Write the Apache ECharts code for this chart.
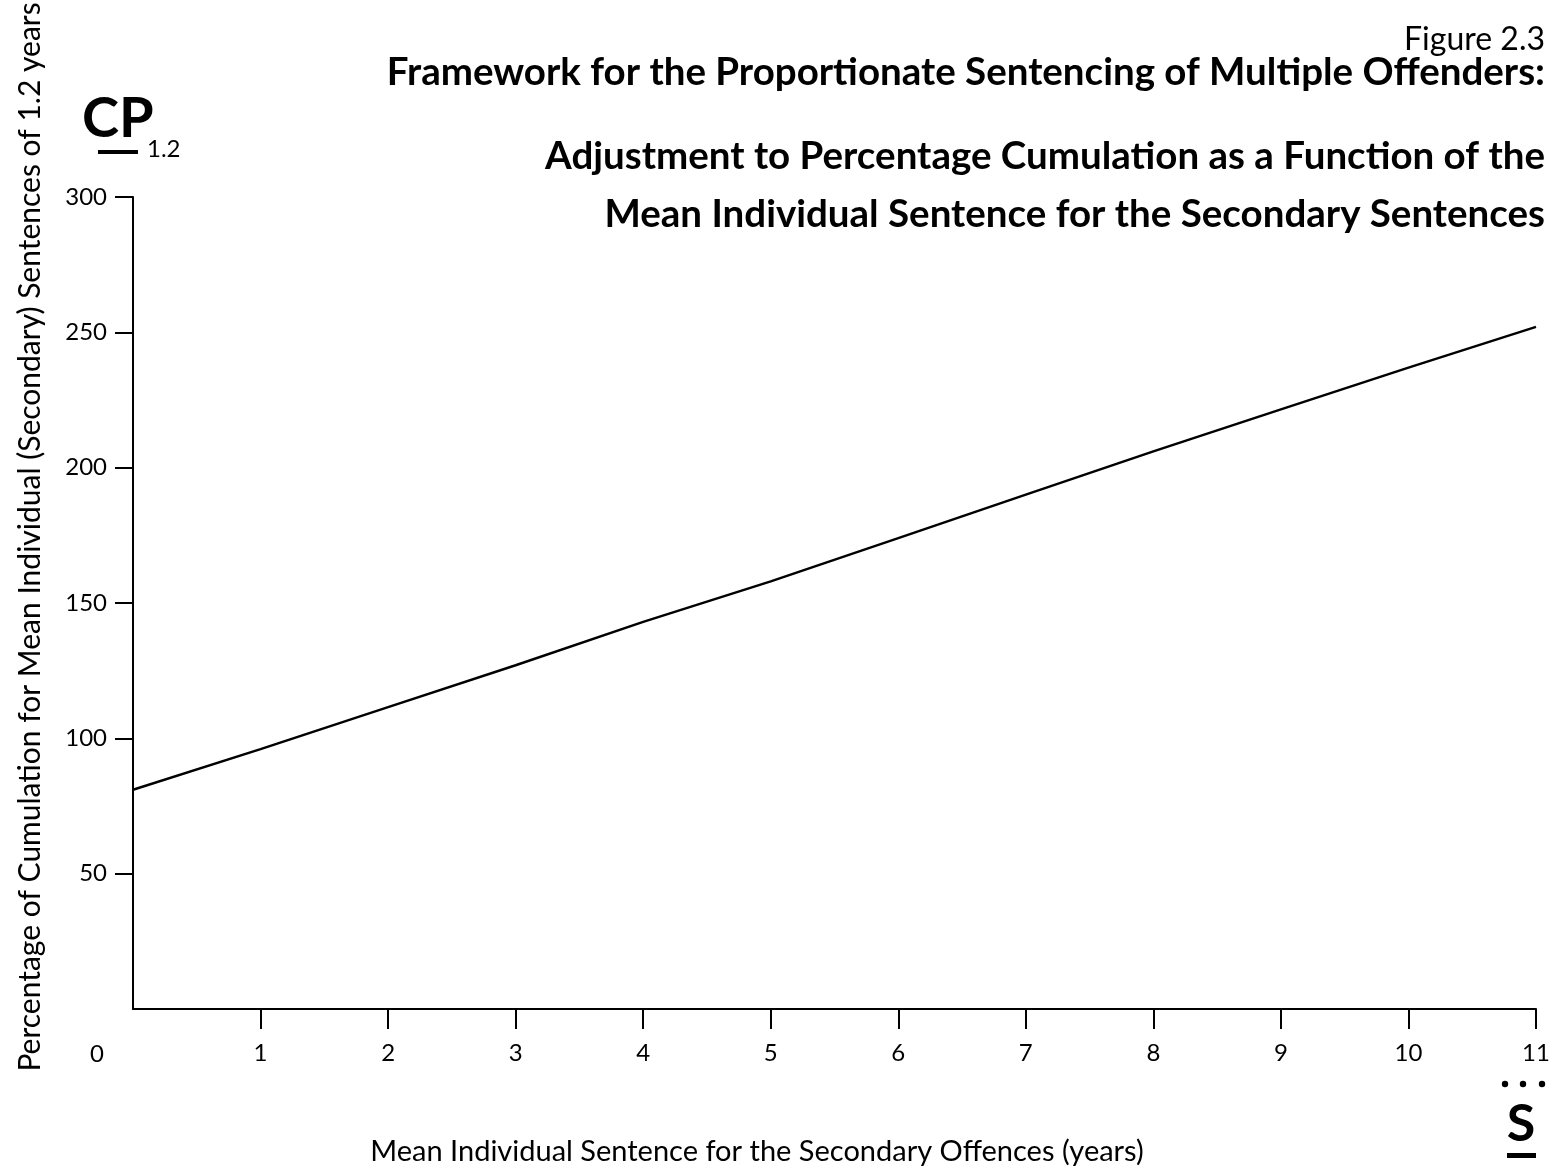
<!DOCTYPE html>
<html>
<head>
<meta charset="utf-8">
<title>Figure 2.3</title>
<script src="https://cdn.jsdelivr.net/npm/echarts@6/dist/echarts.min.js"></script>
<style>
  html, body { margin: 0; padding: 0; background: #fff; }
  #chart { width: 1557px; height: 1173px; }
</style>
</head>
<body>
<div id="chart"></div>
<script>
// Mean individual sentence for the secondary offences (years)
const sentenceYears = [0, 1, 2, 3, 4, 5, 6, 7, 8, 9, 10, 11];
// Percentage of cumulation for a 1.2-year mean secondary sentence
const cumulationPct = [81, 96, 111.5, 127, 143, 158, 174, 190, 206, 221.5, 237, 252];
// Tick labels
const xTicks = [1, 2, 3, 4, 5, 6, 7, 8, 9, 10, 11];
const yTicks = [50, 100, 150, 200, 250, 300];

const titleLines = [
  'Framework for the Proportionate Sentencing of Multiple Offenders:',
  'Adjustment to Percentage Cumulation as a Function of the',
  'Mean Individual Sentence for the Secondary Sentences'
];
const xAxisTitle = 'Mean Individual Sentence for the Secondary Offences (years)';
const yAxisTitle = 'Percentage of Cumulation for Mean Individual (Secondary) Sentences of 1.2 years';

const FONT = 'Lato, "Open Sans", sans-serif';
const chart = echarts.init(document.getElementById('chart'), null, { renderer: 'canvas' });

const titleY = [73, 157, 215];

chart.setOption({
  backgroundColor: '#ffffff',
  animation: false,
  grid: { left: 133, right: 21, top: 197, bottom: 164, containLabel: false, outerBoundsMode: 'none' },
  xAxis: {
    type: 'value',
    min: 0,
    max: 11,
    interval: 1,
    splitLine: { show: false },
    axisLine: { show: true, lineStyle: { color: '#000', width: 2 } },
    axisTick: { show: true, customValues: xTicks, length: 20, lineStyle: { color: '#000', width: 2 } },
    axisLabel: { customValues: xTicks, color: '#000', fontFamily: FONT, fontSize: 24, margin: 32 }
  },
  yAxis: {
    type: 'value',
    min: 0,
    max: 300,
    interval: 50,
    splitLine: { show: false },
    axisLine: { show: true, lineStyle: { color: '#000', width: 2 } },
    axisTick: { show: true, customValues: yTicks, length: 18, lineStyle: { color: '#000', width: 2 } },
    axisLabel: { customValues: yTicks, color: '#000', fontFamily: FONT, fontSize: 24, margin: 26 }
  },
  series: [{
    type: 'line',
    data: sentenceYears.map((x, i) => [x, cumulationPct[i]]),
    showSymbol: false,
    lineStyle: { color: '#000', width: 2.4 },
    silent: true
  }],
  graphic: [
    { type: 'text', x: 1545, y: 40, style: { text: 'Figure 2.3', font: '32px ' + FONT, fill: '#000', textAlign: 'right', textVerticalAlign: 'middle' } },
    ...titleLines.map((t, i) => ({
      type: 'text', x: 1545, y: titleY[i],
      style: { text: t, font: 'bold 38.5px ' + FONT, fill: '#000', textAlign: 'right', textVerticalAlign: 'middle' }
    })),
    // axis titles
    { type: 'text', x: 757, y: 1152, style: { text: xAxisTitle, font: '29px ' + FONT, fill: '#000', textAlign: 'center', textVerticalAlign: 'middle' } },
    { type: 'text', x: 30, y: 537, rotation: Math.PI / 2,
      style: { text: yAxisTitle, font: '30px ' + FONT, fill: '#000', textAlign: 'center', textVerticalAlign: 'middle' } },
    // CP with subscript
    { type: 'text', x: 82, y: 119, style: { text: 'CP', font: 'bold 56px ' + FONT, fill: '#000', textVerticalAlign: 'middle' } },
    { type: 'rect', shape: { x: 98, y: 150, width: 40, height: 4 }, style: { fill: '#000' } },
    { type: 'text', x: 147, y: 149, style: { text: '1.2', font: '24px ' + FONT, fill: '#000', textVerticalAlign: 'middle' } },
    // origin label
    { type: 'text', x: 97, y: 1054, style: { text: '0', font: '24px ' + FONT, fill: '#000', textAlign: 'center', textVerticalAlign: 'middle' } },
    // S with dots
    { type: 'circle', shape: { cx: 1505, cy: 1084, r: 3.2 }, style: { fill: '#000' } },
    { type: 'circle', shape: { cx: 1523, cy: 1084, r: 3.2 }, style: { fill: '#000' } },
    { type: 'circle', shape: { cx: 1542, cy: 1084, r: 3.2 }, style: { fill: '#000' } },
    { type: 'text', x: 1521, y: 1124, style: { text: 'S', font: 'bold 52px ' + FONT, fill: '#000', textAlign: 'center', textVerticalAlign: 'middle' } },
    { type: 'rect', shape: { x: 1507, y: 1153, width: 29, height: 5 }, style: { fill: '#000' } }
  ]
});
</script>
</body>
</html>
